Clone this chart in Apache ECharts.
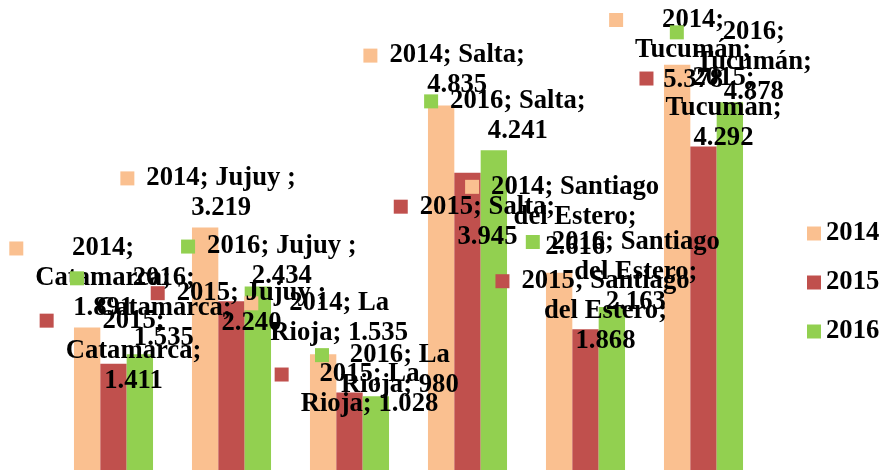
<!DOCTYPE html>
<html>
<head>
<meta charset="utf-8">
<script src="https://cdn.jsdelivr.net/npm/echarts@6/dist/echarts.min.js"></script>
<style>
html, body { margin: 0; padding: 0; background: #ffffff; }
#chart { width: 881px; height: 470px; }
</style>
</head>
<body>
<div id="chart"></div>
<script>
// ---- data ----
const categories = ['Catamarca', 'Jujuy ', 'La Rioja', 'Salta', 'Santiago del Estero', 'Tucumán'];
const seriesNames = ['2014', '2015', '2016'];
const values2014 = [1891, 3219, 1535, 4835, 2616, 5378];
const values2015 = [1411, 2240, 1028, 3945, 1868, 4292];
const values2016 = [1535, 2434, 980, 4241, 2163, 4878];

// ---- styling ----
const colors = ['#FAC090', '#C0504D', '#92D050'];
const FONT = '"Liberation Serif", "Times New Roman", serif';
const FS = 26.67;
const LH = 30;
const WRAP = 173;
// per-series label offsets [dx, dy] (label layout tweak, not data)
const labelOffsets = [[3, 1], [7, 32], [11, 8]];
// small extra vertical nudges of individual labels (label layout tweak, not data)
const labelNudgeY = [
  [0, 0, -2, -1, -7, 0],
  [5, 10, 0, 52, 0, -20],
  [-4, 2, 1, -7, 7, 2]
];
const LABEL_TOP_LIMIT = 5;

const ctx = document.createElement('canvas').getContext('2d');
ctx.font = 'bold ' + FS + 'px "Liberation Serif"';

function fmt(v) {
  return String(v).replace(/\B(?=(\d{3})+(?!\d))/g, '.');
}
function wrap(text, maxW) {
  const words = text.split(' ');
  const lines = [];
  let cur = '';
  words.forEach(w => {
    const cand = cur === '' ? w : cur + ' ' + w;
    if (cur !== '' && ctx.measureText(cand).width > maxW) {
      lines.push(cur);
      cur = w;
    } else {
      cur = cand;
    }
  });
  if (cur !== '') lines.push(cur);
  return lines;
}

function makeSeries(name, values, idx) {
  const color = colors[idx];
  return {
    name: name,
    type: 'bar',
    barGap: '0%',
    barCategoryGap: '33%',
    itemStyle: { color: color },
    data: values,
    label: {
      show: true,
      position: 'top',
      distance: 5,
      lineHeight: LH,
      fontFamily: FONT,
      fontSize: FS,
      fontWeight: 'bold',
      color: '#000',
      textBorderWidth: 0,
      formatter: function (p) {
        const text = p.seriesName + '; ' + p.name + '; ' + fmt(p.value);
        const lines = wrap(text, WRAP);
        return lines.map((l, i) => (i === 0 ? '{k|}{g|}' : '{s|}') + '{t|' + l + '}').join('\n');
      },
      rich: {
        k: { width: 14, height: 14, backgroundColor: color, align: 'left', lineHeight: LH },
        g: { width: 12, align: 'left', lineHeight: LH },
        s: { width: 26, align: 'left', lineHeight: LH },
        t: {
          align: 'center', lineHeight: LH, fontFamily: FONT, fontSize: FS,
          fontWeight: 'bold', color: '#000'
        }
      }
    }
  };
}

const chart = echarts.init(document.getElementById('chart'), null, { renderer: 'canvas' });
chart.setOption({
  animation: false,
  backgroundColor: '#ffffff',
  grid: { left: 54.5, right: 118.5, top: 17.8, bottom: -2, containLabel: false },
  xAxis: {
    type: 'category',
    data: categories,
    show: false
  },
  yAxis: {
    type: 'value',
    min: 0,
    max: 6000,
    show: false
  },
  legend: {
    orient: 'vertical',
    left: 807,
    top: 220,
    padding: 0,
    itemWidth: 14,
    itemHeight: 14,
    itemGap: 22,
    icon: 'rect',
    selectedMode: false,
    data: seriesNames,
    textStyle: { fontFamily: FONT, fontSize: FS, fontWeight: 'bold', color: '#000', lineHeight: 26 }
  },
  labelLayout: function (params) {
    const si = params.seriesIndex;
    const di = params.dataIndex;
    const dx = labelOffsets[si][0];
    let dy = labelOffsets[si][1] + labelNudgeY[si][di];
    const r = params.labelRect;
    if (r && r.y + dy < LABEL_TOP_LIMIT) {
      dy = LABEL_TOP_LIMIT - r.y;
    }
    return { dx: dx, dy: dy };
  },
  series: [
    makeSeries(seriesNames[0], values2014, 0),
    makeSeries(seriesNames[1], values2015, 1),
    makeSeries(seriesNames[2], values2016, 2)
  ]
});
</script>
</body>
</html>
